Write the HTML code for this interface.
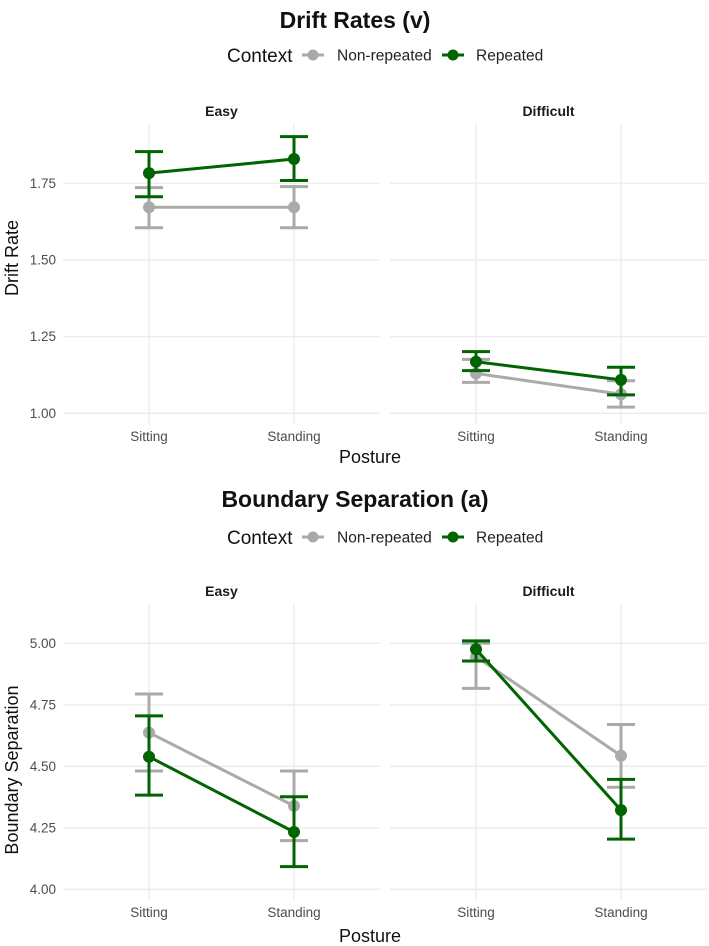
<!DOCTYPE html>
<html><head><meta charset="utf-8">
<style>
body{margin:0;background:#fff;}
svg{display:block;font-family:"Liberation Sans",sans-serif;}
</style></head>
<body>
<svg id="chart" width="709" height="946" viewBox="0 0 709 946" xmlns="http://www.w3.org/2000/svg"></svg>
<script>
// ---- data ----
const postures = ["Sitting","Standing"];
const panels = ["Easy","Difficult"];
const contexts = ["Non-repeated","Repeated"];
// drift rate: [panel][posture]
const driftNonRep = [[1.672,1.672],[1.130,1.062]];
const driftNonRepLo = [[1.605,1.605],[1.101,1.020]];
const driftNonRepHi = [[1.736,1.739],[1.176,1.106]];
const driftRep = [[1.783,1.829],[1.168,1.109]];
const driftRepLo = [[1.706,1.759],[1.139,1.060]];
const driftRepHi = [[1.853,1.902],[1.201,1.150]];
const driftTicks = [1.00,1.25,1.50,1.75];
// boundary separation
const bsNonRep = [[4.637,4.339],[4.946,4.543]];
const bsNonRepLo = [[4.481,4.198],[4.817,4.415]];
const bsNonRepHi = [[4.794,4.481],[5.000,4.670]];
const bsRep = [[4.539,4.233],[4.976,4.322]];
const bsRepLo = [[4.383,4.092],[4.928,4.204]];
const bsRepHi = [[4.705,4.376],[5.010,4.447]];
const bsTicks = [4.00,4.25,4.50,4.75,5.00];

const NS="http://www.w3.org/2000/svg";
const svg=document.getElementById('chart');
function mk(tag,attrs,parent){const e=document.createElementNS(NS,tag);for(const k in attrs)e.setAttribute(k,attrs[k]);(parent||svg).appendChild(e);return e;}
const GRAY="#aaaaaa", GREEN="#006400";
const panelX=[[63,380],[390,707]];

function drawChart(cfg){
  const g=mk('g',{});
  
  
  const yScale=v=>cfg.y0-(v-cfg.v0)*cfg.ppu;
  const xScale=(p,i)=>panelX[p][0]+86+i*145;
  const t=mk('text',{x:355,y:cfg.titleY,'text-anchor':'middle','font-size':23,'font-weight':'bold',fill:'#111'},g);
  t.textContent=cfg.title;
  
  const lg=mk('g',{},g);
  
  const lt=mk('text',{x:227,y:cfg.legY+7,'font-size':19,fill:'#111'},lg);lt.textContent="Context";
  const keys=[[302,337,GRAY,"Non-repeated"],[442,476,GREEN,"Repeated"]];
  keys.forEach(k=>{
    const e=mk('g',{},lg);
    
    mk('line',{x1:k[0],x2:k[0]+22,y1:cfg.legY,y2:cfg.legY,stroke:k[2],'stroke-width':3},e);
    mk('circle',{cx:k[0]+11,cy:cfg.legY,r:5.5,fill:k[2]},e);
    const tx=mk('text',{x:k[1],y:cfg.legY+5.5,'font-size':15.5,fill:'#222'},e);tx.textContent=k[3];
  });
  cfg.ticks.forEach(v=>{
    const tt=mk('text',{x:56,y:yScale(v)+4.5,'text-anchor':'end','font-size':13.5,fill:'#4d4d4d'},g);
    tt.textContent=v.toFixed(2);
    
  });
  const yt=mk('text',{x:0,y:0,'text-anchor':'middle','font-size':18,fill:'#111',transform:`translate(18,${cfg.yTitleY}) rotate(-90)`},g);
  yt.textContent=cfg.yTitle;
  
  const xt=mk('text',{x:370,y:cfg.xTitleY,'text-anchor':'middle','font-size':18,fill:'#111'},g);
  xt.textContent="Posture";
  
  panels.forEach((pn,p)=>{
    const pg=mk('g',{},g);
    
    const st=mk('text',{x:(panelX[p][0]+panelX[p][1])/2,y:cfg.stripY,'text-anchor':'middle','font-size':14,'font-weight':'bold',fill:'#1a1a1a'},pg);
    st.textContent=pn;
    cfg.ticks.forEach(v=>mk('line',{x1:panelX[p][0],x2:panelX[p][1],y1:yScale(v),y2:yScale(v),stroke:'#ebebeb','stroke-width':1.3},pg));
    postures.forEach((ps,i)=>{
      mk('line',{x1:xScale(p,i),x2:xScale(p,i),y1:cfg.gridTop,y2:cfg.gridBot,stroke:'#ebebeb','stroke-width':1.3},pg);
      const xl=mk('text',{x:xScale(p,i),y:cfg.gridBot+17,'text-anchor':'middle','font-size':13.5,fill:'#4d4d4d'},pg);
      xl.textContent=ps;
      
    });
    cfg.series.forEach((s,si)=>{
      const sg=mk('g',{},pg);
      
      postures.forEach((ps,i)=>{
        const x=xScale(p,i);
        const eb=mk('g',{},sg);
        
        const lo=yScale(s.lo[p][i]),hi=yScale(s.hi[p][i]);
        mk('line',{x1:x,x2:x,y1:lo,y2:hi,stroke:s.color,'stroke-width':3},eb);
        mk('line',{x1:x-14,x2:x+14,y1:lo,y2:lo,stroke:s.color,'stroke-width':3},eb);
        mk('line',{x1:x-14,x2:x+14,y1:hi,y2:hi,stroke:s.color,'stroke-width':3},eb);
      });
      const ln=mk('line',{x1:xScale(p,0),y1:yScale(s.m[p][0]),x2:xScale(p,1),y2:yScale(s.m[p][1]),stroke:s.color,'stroke-width':3},sg);
      
      postures.forEach((ps,i)=>{
        const c=mk('circle',{cx:xScale(p,i),cy:yScale(s.m[p][i]),r:6,fill:s.color},sg);
        
      });
    });
  });
}
drawChart({name:'drift-rate-chart',title:'Drift Rates (v)',titleY:28,legY:55,stripY:116,
  y0:413.3,v0:1.0,ppu:306.7,ticks:driftTicks,gridTop:124,gridBot:424,
  yTitle:'Drift Rate',yTitleY:258,xTitleY:463,
  series:[{color:GRAY,m:driftNonRep,lo:driftNonRepLo,hi:driftNonRepHi},{color:GREEN,m:driftRep,lo:driftRepLo,hi:driftRepHi}]});
drawChart({name:'boundary-separation-chart',title:'Boundary Separation (a)',titleY:507,legY:537,stripY:596,
  y0:889.3,v0:4.0,ppu:246,ticks:bsTicks,gridTop:604,gridBot:900,
  yTitle:'Boundary Separation',yTitleY:770,xTitleY:942,
  series:[{color:GRAY,m:bsNonRep,lo:bsNonRepLo,hi:bsNonRepHi},{color:GREEN,m:bsRep,lo:bsRepLo,hi:bsRepHi}]});
</script>
</body></html>
